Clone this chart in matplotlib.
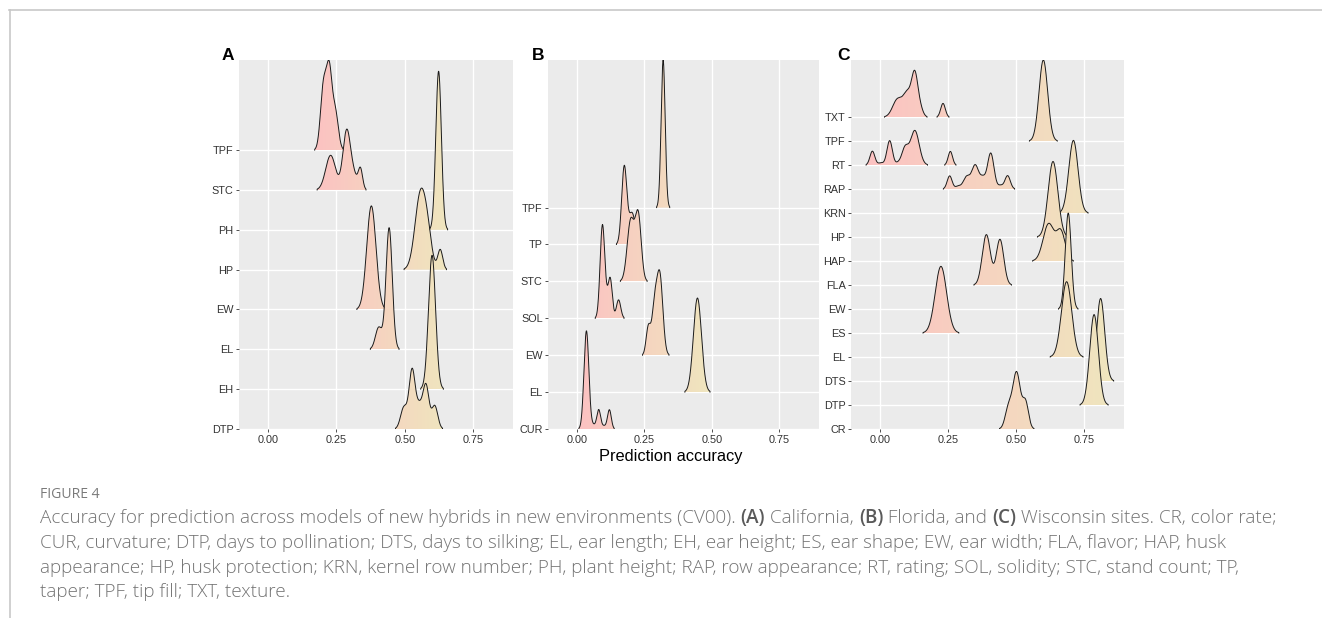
import numpy as np
import matplotlib
matplotlib.use("Agg")
import matplotlib.pyplot as plt
from matplotlib.colors import LinearSegmentedColormap, Normalize
from matplotlib.patches import Polygon

# ---------------- data ----------------
# each trait: list of density components (centre, spread, height in row units)
TRAITS_A = ["DTP", "EH", "EL", "EW", "HP", "PH", "STC", "TPF"]
PEAKS_A = {
    "DTP": [(0.497, 0.012, 0.54), (0.527, 0.011, 1.45), (0.553, 0.012, 0.55),
            (0.578, 0.011, 1.07), (0.610, 0.011, 0.58)],
    "EH": [(0.600, 0.013, 3.36)],
    "EL": [(0.405, 0.012, 0.55), (0.443, 0.0115, 3.05)],
    "EW": [(0.378, 0.017, 2.60)],
    "HP": [(0.558, 0.020, 1.90), (0.585, 0.015, 0.60), (0.630, 0.009, 0.50)],
    "PH": [(0.624, 0.0102, 3.98)],
    "STC": [(0.229, 0.018, 0.87), (0.288, 0.014, 1.50), (0.315, 0.012, 0.30),
            (0.338, 0.008, 0.52)],
    "TPF": [(0.203, 0.011, 1.60), (0.224, 0.010, 1.85), (0.246, 0.011, 0.95)],
}

TRAITS_B = ["CUR", "EL", "EW", "SOL", "STC", "TP", "TPF"]
PEAKS_B = {
    "CUR": [(0.036, 0.009, 2.66), (0.062, 0.008, 0.10), (0.0815, 0.007, 0.52),
            (0.101, 0.008, 0.08), (0.121, 0.007, 0.52)],
    "EL": [(0.447, 0.015, 2.55)],
    "EW": [(0.265, 0.008, 0.74), (0.288, 0.010, 1.25), (0.308, 0.011, 2.10)],
    "SOL": [(0.095, 0.0085, 2.45), (0.110, 0.009, 0.35), (0.1245, 0.0075, 1.00),
            (0.155, 0.008, 0.50)],
    "STC": [(0.200, 0.013, 1.65), (0.228, 0.011, 1.75)],
    "TP": [(0.176, 0.0095, 2.10), (0.205, 0.012, 0.85)],
    "TPF": [(0.320, 0.0075, 4.00)],
}

TRAITS_C = ["CR", "DTP", "DTS", "EL", "ES", "EW", "FLA", "HAP", "HP", "KRN",
            "RAP", "RT", "TPF", "TXT"]
PEAKS_C = {
    "CR": [(0.472, 0.012, 0.85), (0.502, 0.014, 2.35), (0.535, 0.011, 1.10)],
    "DTP": [(0.787, 0.016, 3.77)],
    "DTS": [(0.811, 0.015, 3.44)],
    "EL": [(0.686, 0.019, 3.14)],
    "ES": [(0.224, 0.021, 2.78)],
    "EW": [(0.692, 0.011, 4.00)],
    "FLA": [(0.391, 0.015, 2.10), (0.441, 0.014, 1.90)],
    "HAP": [(0.620, 0.020, 1.55), (0.665, 0.016, 1.20)],
    "HP": [(0.636, 0.018, 3.15)],
    "KRN": [(0.711, 0.017, 3.03)],
    "RAP": [(0.256, 0.009, 0.55), (0.287, 0.010, 0.12), (0.318, 0.012, 0.50),
            (0.350, 0.013, 1.00), (0.378, 0.010, 0.40), (0.407, 0.012, 1.50),
            (0.443, 0.009, 0.14), (0.469, 0.010, 0.56)],
    "RT": [(-0.028, 0.009, 0.58), (0.003, 0.010, 0.09), (0.0355, 0.010, 1.02),
           (0.066, 0.009, 0.08), (0.092, 0.012, 0.70), (0.128, 0.016, 1.44),
           (0.2586, 0.008, 0.57)],
    "TPF": [(0.6005, 0.016, 3.38)],
    "TXT": [(0.065, 0.018, 0.75), (0.100, 0.014, 0.90), (0.128, 0.012, 1.80),
            (0.150, 0.010, 0.25), (0.2316, 0.0085, 0.57)],
}

X_TICKS = [0.0, 0.25, 0.50, 0.75]
X_TICK_LABELS = ["0.00", "0.25", "0.50", "0.75"]
PANEL_LABELS = ["A", "B", "C"]
X_LABEL = "Prediction accuracy"

CAPTION_HEAD = "FIGURE 4"
CAPTION_L1 = [
    ("Accuracy for prediction across models of new hybrids in new environments (CV00). ", False),
    ("(A)", True), (" California, ", False), ("(B)", True), (" Florida, and ", False),
    ("(C)", True), (" Wisconsin sites. CR, color rate;", False),
]
CAPTION_LINES = [
    "CUR, curvature; DTP, days to pollination; DTS, days to silking; EL, ear length; EH, ear height; ES, ear shape; EW, ear width; FLA, flavor; HAP, husk",
    "appearance; HP, husk protection; KRN, kernel row number; PH, plant height; RAP, row appearance; RT, rating; SOL, solidity; STC, stand count; TP,",
    "taper; TPF, tip fill; TXT, texture.",
]

# ---------------- style ----------------
W, H = 1322, 618
XLIM = (-0.1055, 0.8955)
THR = 0.02
LOW, HIGH = "#FCC2C2", "#EFE6BE"
plt.rcParams["font.family"] = ["Liberation Sans", "DejaVu Sans"]

fig = plt.figure(figsize=(W / 100, H / 100), dpi=100)


def px_axes(l, t, r, b):
    return fig.add_axes([l / W, 1 - b / H, (r - l) / W, (b - t) / H])


cmap = LinearSegmentedColormap.from_list("ridge", [LOW, HIGH])


def draw_panel(ax, traits, peaks):
    xs = np.linspace(XLIM[0], XLIM[1], 4000)
    dens = []
    for t in traits:
        d = np.zeros_like(xs)
        for mu, sd, h in peaks[t]:
            d += h * np.exp(-0.5 * ((xs - mu) / sd) ** 2)
        dens.append(d)
    covered = np.concatenate([xs[d > THR] for d in dens])
    norm = Normalize(covered.min(), covered.max())
    n = len(traits)
    top = max(i + d.max() for i, d in enumerate(dens))
    for i in reversed(range(n)):
        d = dens[i]
        idx = np.where(d > THR)[0]
        splits = np.where(np.diff(idx) > 1)[0] + 1
        zo = 2 + 2 * (n - i)
        for seg in np.split(idx, splits):
            x = xs[seg]
            y = i + d[seg]
            vx = np.concatenate([[x[0]], x, [x[-1]]])
            vy = np.concatenate([[i], y, [i]])
            poly = Polygon(np.column_stack([vx, vy]), closed=True,
                           facecolor="none", edgecolor="none")
            ax.add_patch(poly)
            grad = np.linspace(x[0], x[-1], 256)[None, :]
            im = ax.imshow(grad, extent=(x[0], x[-1], i, y.max()), origin="lower",
                           cmap=cmap, norm=norm, aspect="auto",
                           interpolation="bilinear", zorder=zo)
            im.set_clip_path(poly)
            ax.plot(vx, vy, color="#1a1a1a", lw=0.7, zorder=zo + 1,
                    solid_joinstyle="round")
    ax.set_facecolor("#EBEBEB")
    ax.set_axisbelow(True)
    ax.grid(True, color="white", lw=1.0)
    ax.set_xlim(*XLIM)
    ax.set_ylim(0, top)
    ax.set_xticks(X_TICKS)
    ax.set_xticklabels(X_TICK_LABELS)
    ax.set_yticks(range(n))
    ax.set_yticklabels(traits)
    ax.tick_params(length=2.2, width=0.6, color="#333333", labelsize=7.8,
                   labelcolor="#333333", pad=1.8)
    for s in ax.spines.values():
        s.set_visible(False)


boxes = [(239.2, 60, 512.8, 429), (548.2, 60, 818.6, 429), (851.3, 60, 1123.6, 429)]
data = [(TRAITS_A, PEAKS_A), (TRAITS_B, PEAKS_B), (TRAITS_C, PEAKS_C)]
label_x = [222, 531.5, 837]
for (l, t, r, b), (tr, pk), lab, lx in zip(boxes, data, PANEL_LABELS, label_x):
    ax = px_axes(l, t, r, b)
    draw_panel(ax, tr, pk)
    fig.text(lx / W, 1 - 60 / H, lab, fontsize=12.5, fontweight="bold",
             ha="left", va="baseline", color="black")

fig.text(671 / W, 1 - 461 / H, X_LABEL, ha="center", va="baseline",
         fontsize=11.8, color="black")

# ---------------- frame lines ----------------
fig.add_artist(plt.Line2D([9 / W, 1.0], [1 - 10 / H, 1 - 10 / H], color="#c8c8c8", lw=1.2))
fig.add_artist(plt.Line2D([9.5 / W, 9.5 / W], [0, 1 - 10 / H], color="#c8c8c8", lw=1.2))

# ---------------- caption ----------------
renderer = fig.canvas.get_renderer()
CAP_FONT = ["Open Sans", "DejaVu Sans"]
CAP_COL = "#737373"


def twidth(s, **kw):
    t1 = fig.text(0, 0, s + "|", **kw)
    w1 = t1.get_window_extent(renderer).width
    t1.remove()
    t2 = fig.text(0, 0, "|", **kw)
    w2 = t2.get_window_extent(renderer).width
    t2.remove()
    return w1 - w2


def seg_kw(bold, fs):
    return dict(fontsize=fs, family=CAP_FONT,
                fontweight="semibold" if bold else "light",
                color="#5a5a5a" if bold else CAP_COL)


base_fs = 12.0
wtot = sum(twidth(s, **seg_kw(b, base_fs)) for s, b in CAPTION_L1)
fs = base_fs * (1277 - 40) / wtot

fig.text(40 / W, 1 - 497.5 / H, CAPTION_HEAD, fontsize=fs * 0.74, family=CAP_FONT,
         color="#7a7a7a", ha="left", va="baseline")

x = 40.0
for s, b in CAPTION_L1:
    kw = seg_kw(b, fs)
    fig.text(x / W, 1 - 523 / H, s, ha="left", va="baseline", **kw)
    x += twidth(s, **kw)

for k, line in enumerate(CAPTION_LINES):
    yb = 548 + 24.7 * k
    fig.text(40 / W, 1 - yb / H, line, ha="left", va="baseline", **seg_kw(False, fs))

fig.savefig("out.png", dpi=100, facecolor="white")
